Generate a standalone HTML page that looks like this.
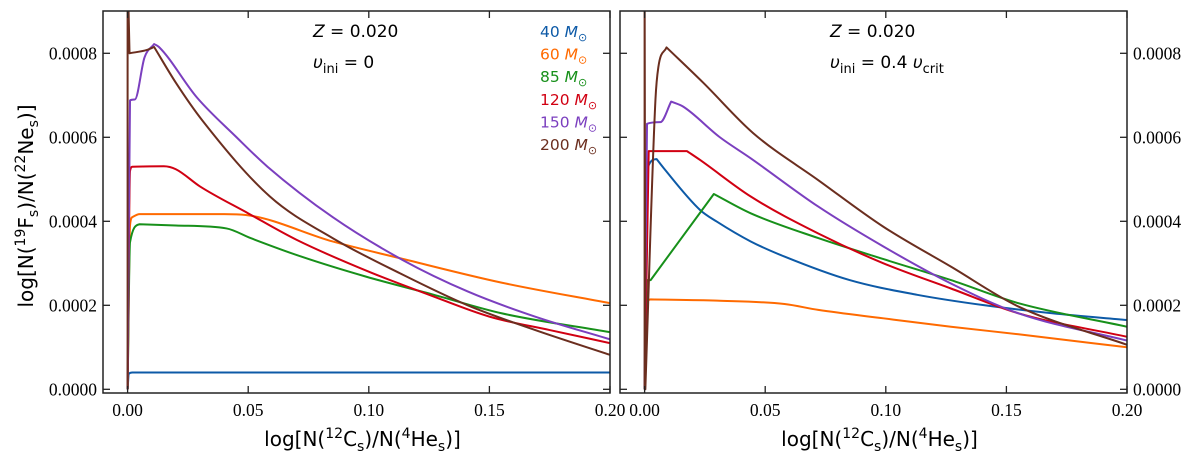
<!DOCTYPE html>
<html><head><meta charset="utf-8"><style>
body{margin:0;background:#fff;}
svg{display:block;}
.tk{font-family:"Liberation Serif",serif;font-size:17.5px;fill:#000;}
.lab{font-family:"DejaVu Sans","Liberation Sans",sans-serif;font-size:20px;fill:#000;}
.ann{font-family:"DejaVu Sans","Liberation Sans",sans-serif;font-size:17px;fill:#000;}
.leg{font-family:"DejaVu Sans","Liberation Sans",sans-serif;font-size:15.5px;}
</style></head><body>
<svg id="chart" width="1200" height="461" viewBox="0 0 1200 461"></svg>
<script>
// data (y in units of 1e-4)
const xTicks=[0,0.05,0.10,0.15,0.20];
const xTickLabels=["0.00","0.05","0.10","0.15","0.20"];
const yTicks=[0,2,4,6,8];
const yTickLabels=["0.0000","0.0002","0.0004","0.0006","0.0008"];
const seriesNames=["40","60","85","120","150","200"];
const seriesColors=["#0d5aa7","#ff6a00","#17901a","#d10012","#7b3fbf","#6b2e1f"];
// left panel v_ini = 0
const L40x=[0,0.0005,0.002,0.2];
const L40y=[0,0.37,0.40,0.40];
const L60x=[0,0.001,0.002,0.005,0.04,0.049,0.085,0.113,0.155,0.2];
const L60y=[0,3.9,4.1,4.17,4.17,4.15,3.52,3.12,2.54,2.05];
const L85x=[0,0.001,0.005,0.02,0.041,0.051,0.072,0.099,0.127,0.155,0.2];
const L85y=[0,3.5,3.93,3.90,3.83,3.6,3.16,2.68,2.25,1.81,1.36];
const L120x=[0,0.001,0.002,0.015,0.02,0.03,0.05,0.07,0.1,0.125,0.15,0.175,0.2];
const L120y=[0,5.2,5.30,5.31,5.24,4.83,4.19,3.56,2.80,2.25,1.73,1.41,1.10];
const L150x=[0,0.001,0.003,0.007,0.011,0.013,0.0287,0.045,0.058,0.085,0.114,0.141,0.169,0.2];
const L150y=[0,6.88,6.9,7.9,8.22,8.15,6.95,6.01,5.3,4.1,3.08,2.33,1.73,1.19];
const L200x=[0,0,0.0008,0.008,0.011,0.02,0.031,0.059,0.085,0.113,0.141,0.169,0.2];
const L200y=[0,10,8.0,8.08,8.15,7.3,6.4,4.59,3.6,2.76,2.0,1.41,0.82];
// right panel v_ini = 0.4 v_crit
const R40x=[0,0.001,0.005,0.008,0.023,0.030,0.044,0.058,0.085,0.113,0.141,0.169,0.2];
const R40y=[0,5.22,5.48,5.26,4.27,3.99,3.52,3.16,2.60,2.25,2.0,1.81,1.65];
const R60x=[0,0.001,0.0024,0.03,0.058,0.072,0.099,0.127,0.155,0.2];
const R60y=[0,2.05,2.14,2.11,2.03,1.89,1.69,1.49,1.31,1.0];
const R85x=[0,0.001,0.0025,0.0287,0.044,0.072,0.099,0.127,0.155,0.2];
const R85y=[0,2.60,2.60,4.65,4.19,3.60,3.10,2.60,2.05,1.49];
const R120x=[0,0.0017,0.0176,0.023,0.044,0.072,0.099,0.127,0.155,0.2];
const R120y=[0,5.67,5.67,5.46,4.59,3.71,3.0,2.40,1.81,1.25];
const R150x=[0,0.001,0.0065,0.011,0.016,0.031,0.044,0.072,0.099,0.127,0.155,0.2];
const R150y=[0,6.32,6.36,6.85,6.73,6.01,5.5,4.35,3.4,2.52,1.81,1.16];
const R200x=[0,0,0.0003,0.0045,0.0057,0.0091,0.0243,0.045,0.072,0.099,0.127,0.155,0.2];
const R200y=[0,10,0,6.9,7.67,8.14,7.3,6.1,4.98,3.87,2.92,1.97,1.06];

const NS="http://www.w3.org/2000/svg";
const svg=document.getElementById('chart');
function mk(tag,attrs,parent){const e=document.createElementNS(NS,tag);for(const k in attrs)e.setAttribute(k,attrs[k]);(parent||svg).appendChild(e);return e;}
const XMIN=-0.0102,XMAX=0.2,YMIN=-0.088,YMAX=9.007,TOP=11,BOT=393;
// monotone cubic through pixel points; break into runs at vertical jumps and sharp corners
function smoothPath(P){
  let d='M'+P[0][0].toFixed(2)+','+P[0][1].toFixed(2);
  const n=P.length,sl=[];
  for(let i=0;i<n-1;i++){const dx=P[i+1][0]-P[i][0];sl.push(dx<0.5?null:(P[i+1][1]-P[i][1])/dx);}
  const corner=i=>{
    const a=sl[i-1],b=sl[i];
    if(a===null||b===null)return true;
    if(Math.abs(a)<0.02&&Math.abs(b)>0.5)return true;
    if(Math.abs(b)<0.02&&Math.abs(a)>0.5)return true;
    if(a*b<0&&Math.max(Math.abs(a),Math.abs(b))>0.5)return true;
    return false;
  };
  let runs=[],cur=[P[0]];
  for(let i=1;i<n;i++){cur.push(P[i]);if(i<n-1&&corner(i)){runs.push(cur);cur=[P[i]];}}
  runs.push(cur);
  runs.forEach(r=>{
    const m=r.length;
    if(m<3||r[1][0]-r[0][0]<0.5){for(let k=1;k<m;k++)d+='L'+r[k][0].toFixed(2)+','+r[k][1].toFixed(2);return;}
    const dl=[],t=[];
    for(let i=0;i<m-1;i++)dl.push((r[i+1][1]-r[i][1])/(r[i+1][0]-r[i][0]));
    t[0]=dl[0];t[m-1]=dl[m-2];
    for(let i=1;i<m-1;i++)t[i]=(dl[i-1]*dl[i]<=0)?0:(dl[i-1]+dl[i])/2;
    for(let i=0;i<m-1;i++){
      if(dl[i]===0){t[i]=0;t[i+1]=0;continue;}
      const a=t[i]/dl[i],b=t[i+1]/dl[i],s=a*a+b*b;
      if(s>9){const q=3/Math.sqrt(s);t[i]=q*a*dl[i];t[i+1]=q*b*dl[i];}
    }
    for(let i=0;i<m-1;i++){
      const h=(r[i+1][0]-r[i][0])/3;
      d+='C'+(r[i][0]+h).toFixed(2)+','+(r[i][1]+t[i]*h).toFixed(2)+' '+(r[i+1][0]-h).toFixed(2)+','+(r[i+1][1]-t[i+1]*h).toFixed(2)+' '+r[i+1][0].toFixed(2)+','+r[i+1][1].toFixed(2);
    }
  });
  return d;
}
function panel(x0,x1,name,side,sets,annot2){
  const sx=v=>x0+(v-XMIN)/(XMAX-XMIN)*(x1-x0);
  const sy=v=>BOT-(v-YMIN)/(YMAX-YMIN)*(BOT-TOP);
  const g=mk('g',{});
  
  
  const cid='clip-'+name;
  const cp=mk('clipPath',{id:cid},g);mk('rect',{x:x0,y:TOP,width:x1-x0,height:BOT-TOP},cp);
  const lines=mk('g',{'clip-path':'url(#'+cid+')'},g);
  sets.forEach((s,i)=>{
    const P=s[0].map((xv,j)=>[sx(xv),sy(s[1][j])]);
    const p=mk('path',{d:smoothPath(P),fill:'none',stroke:seriesColors[i],'stroke-width':2,'stroke-linejoin':'round'},lines);
    
    
  });
  mk('rect',{x:x0,y:TOP,width:x1-x0,height:BOT-TOP,fill:'none',stroke:'#222','stroke-width':1.5},g);
  xTicks.forEach((t,i)=>{
    const x=sx(t);
    mk('line',{x1:x,x2:x,y1:BOT,y2:BOT-7,stroke:'#222','stroke-width':1.3},g);
    mk('line',{x1:x,x2:x,y1:TOP,y2:TOP+7,stroke:'#222','stroke-width':1.3},g);
    const tx=mk('text',{x:x,y:BOT+23,'text-anchor':'middle',class:'tk'},g);tx.textContent=xTickLabels[i];
    
    
  });
  yTicks.forEach((t,i)=>{
    const y=sy(t);
    mk('line',{x1:x0,x2:x0+7,y1:y,y2:y,stroke:'#222','stroke-width':1.3},g);
    mk('line',{x1:x1,x2:x1-7,y1:y,y2:y,stroke:'#222','stroke-width':1.3},g);
    const tx=side==='left'?mk('text',{x:x0-6,y:y+6,'text-anchor':'end',class:'tk'},g):mk('text',{x:x1+6,y:y+6,'text-anchor':'start',class:'tk'},g);
    tx.textContent=yTickLabels[i];
    
    
  });
  const xl=mk('text',{x:(x0+x1)/2+6,y:446,'text-anchor':'middle',class:'lab'},g);
  xl.innerHTML='log[N(<tspan dy="-8" font-size="14">12</tspan><tspan dy="8">C</tspan><tspan dy="5" font-size="14">s</tspan><tspan dy="-5">)/N(</tspan><tspan dy="-8" font-size="14">4</tspan><tspan dy="8">He</tspan><tspan dy="5" font-size="14">s</tspan><tspan dy="-5">)]</tspan>';
  
  
  const ax=x0+210;
  const a1=mk('text',{x:ax,y:37,class:'ann'},g);
  a1.innerHTML='<tspan font-style="italic">Z</tspan> = 0.020';
  
  
  const a2=mk('text',{x:ax,y:68,class:'ann'},g);
  a2.innerHTML=annot2;
  
  
}
panel(103,610,'panel-no-rotation','left',[[L40x,L40y],[L60x,L60y],[L85x,L85y],[L120x,L120y],[L150x,L150y],[L200x,L200y]],
 '<tspan font-style="italic">υ</tspan><tspan dy="5" font-size="13">ini</tspan><tspan dy="-5"> = 0</tspan>');
panel(620,1127,'panel-rotation','right',[[R40x,R40y],[R60x,R60y],[R85x,R85y],[R120x,R120y],[R150x,R150y],[R200x,R200y]],
 '<tspan font-style="italic">υ</tspan><tspan dy="5" font-size="13">ini</tspan><tspan dy="-5"> = 0.4 </tspan><tspan font-style="italic">υ</tspan><tspan dy="5" font-size="13">crit</tspan>');
// legend
seriesNames.forEach((n,i)=>{
  const t=mk('text',{x:540,y:37+i*22.6,class:'leg',fill:seriesColors[i]});
  t.innerHTML=n+' <tspan font-style="italic">M</tspan><tspan dy="4" font-size="11">⊙</tspan>';
  
  
});
// y label
const yl=mk('text',{x:0,y:0,transform:'translate(33,206) rotate(-90)','text-anchor':'middle',class:'lab'});
yl.innerHTML='log[N(<tspan dy="-8" font-size="14">19</tspan><tspan dy="8">F</tspan><tspan dy="5" font-size="14">s</tspan><tspan dy="-5">)/N(</tspan><tspan dy="-8" font-size="14">22</tspan><tspan dy="8">Ne</tspan><tspan dy="5" font-size="14">s</tspan><tspan dy="-5">)]</tspan>';


</script>
</body></html>
